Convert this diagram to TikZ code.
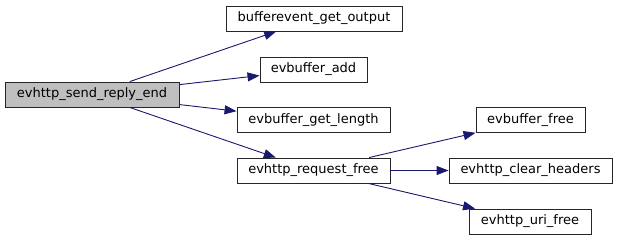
\documentclass[tikz,border=0pt]{standalone}
\usepackage{fontspec}
\setmainfont{DejaVu Sans}
\usetikzlibrary{arrows.meta,positioning}
\definecolor{callblue}{RGB}{25,25,112}
\definecolor{rootgray}{RGB}{191,191,191}
\tikzset{
  fnbox/.style={draw=black!85, fill=white, line width=0.9pt, minimum height=25pt,
                inner sep=0pt, font=\fontsize{13}{15}\selectfont},
  rootbox/.style={fnbox, fill=rootgray},
  callarr/.style={-{Triangle[length=12pt, width=9pt]}, callblue, line width=0.9pt},
}

\begin{document}
\begin{tikzpicture}[x=1pt, y=-1pt]
    \useasboundingbox (0,0) rectangle (617,240);
    % caller
    \node[rootbox, minimum width=174pt] (sendend) at (92,94.5) {evhttp\_send\_reply\_end};
    % first level callees
    \node[fnbox, minimum width=176pt] (getout) at (314,18.5) {bufferevent\_get\_output};
    \node[fnbox, minimum width=107pt] (bufadd) at (313.5,69.5) {evbuffer\_add};
    \node[fnbox, minimum width=153pt] (buflen) at (313.5,120) {evbuffer\_get\_length};
    \node[fnbox, minimum width=153pt] (reqfree) at (313.5,170.5) {evhttp\_request\_free};
    % second level callees
    \node[fnbox, minimum width=109pt] (buffree) at (530.5,120) {evbuffer\_free};
    \node[fnbox, minimum width=163pt] (clrhdr) at (530.5,170.5) {evhttp\_clear\_headers};
    \node[fnbox, minimum width=122pt] (urifree) at (530,221.5) {evhttp\_uri\_free};
    % calls
    \draw[callarr] (sendend) -- (getout);
    \draw[callarr] (sendend) -- (bufadd);
    \draw[callarr] (sendend) -- (buflen);
    \draw[callarr] (sendend) -- (reqfree);
    \draw[callarr] (reqfree) -- (buffree);
    \draw[callarr] (reqfree) -- (clrhdr);
    \draw[callarr] (reqfree) -- (urifree);
\end{tikzpicture}
\end{document}
